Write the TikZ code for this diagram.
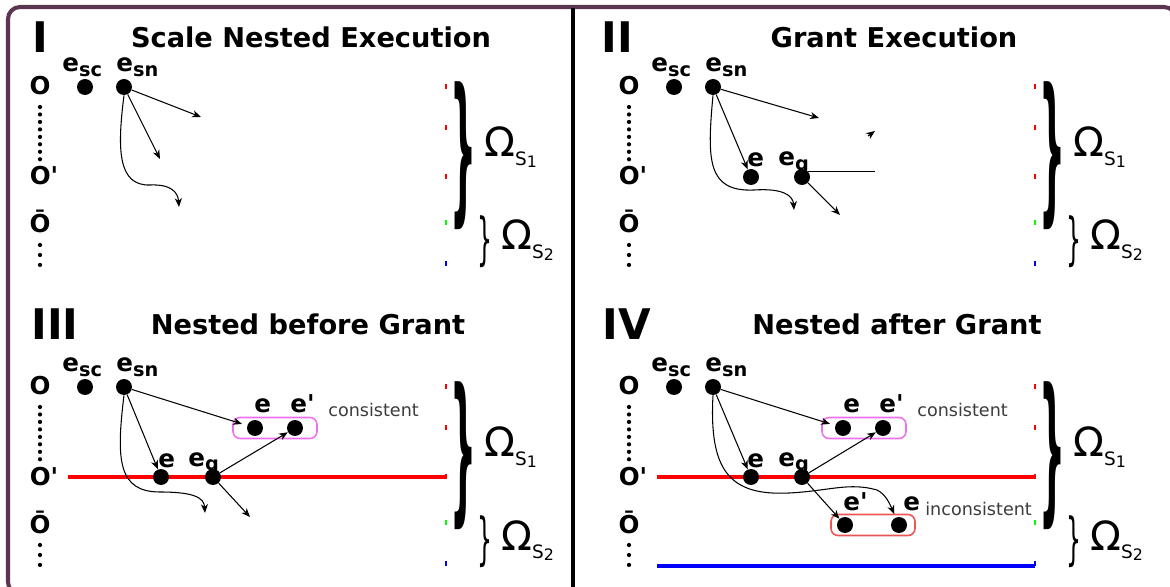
\documentclass[tikz,border=0pt]{standalone}
\usepackage{fontspec}
\setmainfont{DejaVu Sans}[Ligatures=TeXOff]
\usepackage{graphicx}
\usepackage{tikz}
\usetikzlibrary{arrows.meta,positioning}
\definecolor{framepurple}{HTML}{5A3651}
\definecolor{boxpink}{HTML}{EE70EE}
\definecolor{boxred}{HTML}{EE5555}
\definecolor{notegray}{HTML}{3C3C3C}
\newcommand{\evlbl}[2][]{{\bfseries\fontsize{14}{14}\selectfont e#1\raisebox{-2.3pt}{\fontsize{11}{11}\selectfont #2}}}
\newcommand{\omlbl}[1]{{\fontsize{23}{23}\selectfont Ω\raisebox{-5pt}{\fontsize{10.5}{10.5}\selectfont S\raisebox{-1pt}{\fontsize{9}{9}\selectfont #1}}}}
% common part of every panel: orderings, scale events, slices
\newcommand{\panelbase}[1]{%
  \node[ordlbl] (#1o) at (40,95) {O};
  \node[ordlbl] (#1op) at (44,185) {O'};
  \node[ordlbl] (#1ob) at (40,233) {Ō};
  \draw[dotcol] (40,107) -- (40,160);
  \draw[dotcol, dash pattern=on 0pt off 5.67pt] (40,245) -- (40,265);
  \node[evt] (#1esc) at (85,87) {};
  \node[evt] (#1esn) at (124,87) {};
  \node[evtlbl] (#1esclbl) at (62,72) {\evlbl{sc}};
  \node[evtlbl] (#1esnlbl) at (116,72) {\evlbl{sn}};
  \draw[tick, red] (446,84) -- (446,89);
  \draw[tick, red] (446,125) -- (446,130);
  \draw[tick, red] (446,174) -- (446,179);
  \draw[tick, green] (446,220) -- (446,225);
  \draw[tick, blue] (446,261) -- (446,266);
  \node[inner sep=0] (#1bigbr) at (463,156) {\resizebox*{0.52cm}{2.96cm}{\bfseries\}}};
  \node[inner sep=0] (#1smbr) at (485,242) {\resizebox*{0.3cm}{1.04cm}{\}}};
  \node[omtext] (#1om1) at (484,157) {\omlbl{1}};
  \node[omtext] (#1om2) at (501,250) {\omlbl{2}};
}

\begin{document}
\begin{tikzpicture}
  [
    x=0.02cm, y=-0.02cm,
    evt/.style={circle, fill=black, inner sep=0, minimum size=0.32cm},
    evtlbl/.style={anchor=base west, inner sep=0},
    ordlbl/.style={anchor=base, inner sep=0, font=\bfseries\fontsize{14}{14}\selectfont},
    omtext/.style={anchor=base west, inner sep=0},
    numeral/.style={anchor=base, inner sep=0, font=\bfseries\fontsize{24}{24}\selectfont},
    heading/.style={anchor=base, inner sep=0, font=\bfseries\fontsize{15.5}{15.5}\selectfont},
    note/.style={anchor=base west, inner sep=0, text=notegray, font=\fontsize{10}{10}\selectfont},
    dotcol/.style={line width=2.4pt, line cap=round, dash pattern=on 0pt off 4.25pt},
    tick/.style={line width=0.6pt},
    flow/.style={-{Stealth[length=5pt, width=4pt, inset=1.5pt]}, line width=0.6pt},
    group/.style={rounded corners=0.14cm, line width=0.9pt, minimum width=1.68cm, minimum height=0.42cm},
    slice/.style={line width=2.3pt}
  ]
  \useasboundingbox (0,0) rectangle (1170,587);
  % frame and divider
  \draw[framepurple, line width=2.3pt, rounded corners=0.24cm] (8,7) rectangle (1176,594);
  \draw[line width=2.5pt] (573,8) -- (573,590);

  % Panel I
  \node[numeral] (n1) at (40,53) {I};
  \node[heading] (t1) at (311,48) {Scale Nested Execution};
  \panelbase{a}
  \coordinate (a1) at (201,117);
  \coordinate (a2) at (160,159);
  \coordinate (a3) at (179,207);
  \draw[flow] (aesn) -- (a1);
  \draw[flow] (aesn) -- (a2);
  \draw[flow] (aesn.south) .. controls (117,150) and (118,186) .. (150,185)
    .. controls (172,184) and (178,193) .. (a3);

  % Panel II
  \node[numeral] (n2) at (617,53) {II};
  \node[heading] (t2) at (894,48) {Grant Execution};
  \begin{scope}[shift={(589,0)}]
    \panelbase{b}
    \node[evt] (be) at (162,177) {};
    \node[evt] (beg) at (213,177) {};
    \node[evtlbl] (belbl) at (158,167) {\evlbl{}};
    \node[evtlbl] (beglbl) at (189,166) {\evlbl{g}};
    \coordinate (b1) at (230,118);
    \coordinate (b3) at (205,210);
    \coordinate (b4) at (251,215);
    \coordinate (b5) at (286,170);
    \coordinate (bstub) at (279,136);
    \coordinate (bstubtip) at (286,131);
    \draw[flow] (besn) -- (b1);
    \draw[flow] (besn) -- (be);
    \draw[flow] (besn.south) .. controls (118,160) and (118,192) .. (165,190)
      .. controls (195,188) and (204,196) .. (b3);
    \draw[line width=0.6pt] (beg.north east) -- (beg.north east -| b5);
    \draw[flow] (beg) -- (b4);
    \draw[flow] (bstub) -- (bstubtip);
  \end{scope}

  % Panel III
  \node[numeral] (n3) at (55,340) {III};
  \node[heading] (t3) at (308,335) {Nested before Grant};
  \begin{scope}[shift={(0,300)}]
    \coordinate (cl) at (68,177);
    \coordinate (cr) at (446,177);
    \draw[slice, red] (cl) -- (cr);
    \panelbase{c}
    \node[evt] (ce) at (161,177) {};
    \node[evt] (ceg) at (213,177) {};
    \node[evtlbl] (celbl) at (158,167) {\evlbl{}};
    \node[evtlbl] (ceglbl) at (188,166) {\evlbl{g}};
    \node[group, draw=boxpink] (cbox) at (275,128) {};
    \node[evt] (cce) at (255,128) {};
    \node[evt] (ccep) at (295,128) {};
    \node[evtlbl] (ccelbl) at (254,113) {\evlbl{}};
    \node[evtlbl] (cceplbl) at (290,113) {\evlbl[']{}};
    \node[note] (ccnote) at (328,117) {consistent};
    \coordinate (c3) at (205,213);
    \coordinate (c4) at (250,217);
    \draw[flow, shorten >=3pt] (cesn) -- (cce);
    \draw[flow] (cesn) -- (ce);
    \draw[flow] (ceg) -- (ccep);
    \draw[flow] (cesn.south) .. controls (116,160) and (118,192) .. (160,192)
      .. controls (195,192) and (204,198) .. (c3);
    \draw[flow] (ceg) -- (c4);
  \end{scope}

  % Panel IV
  \node[numeral] (n4) at (627,340) {IV};
  \node[heading] (t4) at (897,335) {Nested after Grant};
  \begin{scope}[shift={(589,300)}]
    \coordinate (dl) at (68,177);
    \coordinate (dr) at (446,177);
    \coordinate (dbl) at (68,266);
    \coordinate (dbr) at (446,266);
    \draw[slice, red] (dl) -- (dr);
    \draw[slice, blue] (dbl) -- (dbr);
    \panelbase{d}
    \node[evt] (de) at (162,177) {};
    \node[evt] (deg) at (213,177) {};
    \node[evtlbl] (delbl) at (158,167) {\evlbl{}};
    \node[evtlbl] (deglbl) at (189,166) {\evlbl{g}};
    \node[group, draw=boxpink] (dbox) at (275,128) {};
    \node[evt] (dce) at (254,128) {};
    \node[evt] (dcep) at (294,128) {};
    \node[evtlbl] (dcelbl) at (254,113) {\evlbl{}};
    \node[evtlbl] (dceplbl) at (290,113) {\evlbl[']{}};
    \node[note] (dcnote) at (328,117) {consistent};
    \node[group, draw=boxred] (dibox) at (284,225) {};
    \node[evt] (die) at (310,225) {};
    \node[evt] (diep) at (256,225) {};
    \node[evtlbl] (dieplbl) at (254,210) {\evlbl[']{}};
    \node[evtlbl] (dielbl) at (314,210) {\evlbl{}};
    \node[note] (dinote) at (336,216) {inconsistent};
    \draw[flow, shorten >=3pt] (desn) -- (dce);
    \draw[flow] (desn) -- (de);
    \draw[flow] (deg) -- (dcep);
    \draw[flow] (deg) -- (diep);
    \draw[flow, shorten >=2pt] (desn.south) .. controls (120,170) and (140,196) .. (200,193)
      .. controls (240,191) and (260,182) .. (288,190) .. controls (296,194) and (300,202) .. (die);
  \end{scope}
\end{tikzpicture}
\end{document}
